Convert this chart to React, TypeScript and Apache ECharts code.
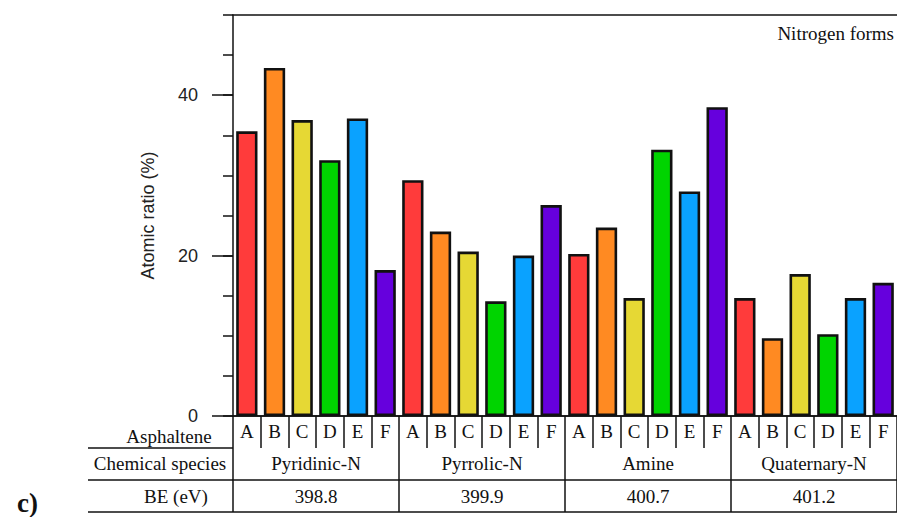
import React, { useEffect, useRef } from 'react';
import * as echarts from 'echarts';

const asphaltenes = ['A', 'B', 'C', 'D', 'E', 'F'];
const species = ['Pyridinic-N', 'Pyrrolic-N', 'Amine', 'Quaternary-N'];
const bindingEnergies = ['398.8', '399.9', '400.7', '401.2'];
const pyridinicN = [35.5, 43.4, 36.9, 31.9, 37.1, 18.2];
const pyrrolicN = [29.4, 23.0, 20.5, 14.3, 20.0, 26.3];
const amine = [20.2, 23.5, 14.7, 33.2, 28.0, 38.5];
const quaternaryN = [14.7, 9.7, 17.7, 10.2, 14.7, 16.6];
const yMajorTicks = [0, 20, 40];
const asphalteneColors = ['#ff3b3b', '#ff8a22', '#e6d834', '#00d400', '#0aa2ff', '#6600dd'];

const groups = [pyridinicN, pyrrolicN, amine, quaternaryN];

const W = 897;
const H = 517;
const GRID_LEFT = 233;
const GRID_TOP = 15;
const GRID_RIGHT_EDGE = 903;
const AXIS_Y = 416;
const ROW_H = 32;
const TABLE_LEFT = 88;
const SERIF = '"Liberation Serif", "Times New Roman", serif';
const SANS = '"Liberation Sans", Arial, sans-serif';
const INK = '#111';

export default function App() {
  const ref = useRef<HTMLDivElement>(null);

  useEffect(() => {
    if (!ref.current) return;
    const chart = echarts.init(ref.current, undefined, { renderer: 'svg' });

    const catKeys: string[] = [];
    const barData: any[] = [];
    groups.forEach((vals, g) => {
      vals.forEach((v, i) => {
        catKeys.push(species[g] + '|' + asphaltenes[i]);
        barData.push({ value: v, itemStyle: { color: asphalteneColors[i] } });
      });
    });

    const line = { show: true, lineStyle: { color: INK, width: 1.5 } };

    const textEl = (text: string, x: number, y: number, extra: any = {}) => ({
      type: 'text',
      x,
      y,
      style: {
        text,
        fill: INK,
        font: `19px ${SERIF}`,
        align: 'center',
        verticalAlign: 'middle',
        ...extra,
      },
    });

    chart.setOption({
      animation: false,
      backgroundColor: '#fff',
      grid: {
        left: GRID_LEFT,
        top: GRID_TOP,
        right: W - GRID_RIGHT_EDGE,
        bottom: H - AXIS_Y,
        containLabel: false,
      },
      xAxis: [
        {
          type: 'category',
          data: catKeys,
          position: 'bottom',
          boundaryGap: true,
          axisLine: line,
          axisTick: { show: true, interval: 0, alignWithLabel: false, length: ROW_H, lineStyle: { color: INK, width: 1.5 } },
          axisLabel: {
            interval: 0,
            margin: 6,
            color: INK,
            fontFamily: SERIF,
            fontSize: 19,
            formatter: (v: string) => v.split('|')[1],
          },
          splitLine: { show: false },
        },
        {
          type: 'category',
          data: species,
          position: 'bottom',
          offset: ROW_H,
          axisLine: line,
          axisTick: { show: false },
          axisLabel: { interval: 0, margin: 6, color: INK, fontFamily: SERIF, fontSize: 19 },
          splitLine: { show: false },
        },
        {
          type: 'category',
          data: bindingEnergies,
          position: 'bottom',
          offset: 2 * ROW_H,
          axisLine: line,
          axisTick: { show: false },
          axisLabel: { interval: 0, margin: 7, color: INK, fontFamily: SERIF, fontSize: 19 },
          splitLine: { show: false },
        },
        {
          type: 'category',
          data: catKeys,
          position: 'top',
          axisLine: line,
          axisTick: { show: false },
          axisLabel: { show: false },
          splitLine: { show: false },
        },
      ],
      yAxis: [
        {
          type: 'value',
          min: 0,
          max: 50,
          interval: 5,
          position: 'left',
          axisLine: line,
          axisTick: { show: true, length: 10, lineStyle: { color: INK, width: 1.5 } },
          axisLabel: { show: false },
          splitLine: { show: false },
          name: 'Atomic ratio (%)',
          nameLocation: 'middle',
          nameGap: 76,
          nameTextStyle: { color: '#222', fontFamily: SANS, fontSize: 18 },
        },
        {
          type: 'value',
          min: 0,
          max: 50,
          interval: 20,
          position: 'left',
          axisLine: { show: false },
          axisTick: { show: true, length: 21, customValues: yMajorTicks, lineStyle: { color: INK, width: 1.5 } },
          axisLabel: { show: true, customValues: yMajorTicks, margin: 35, color: '#222', fontFamily: SANS, fontSize: 18 },
          splitLine: { show: false },
        },
      ],
      series: [
        {
          type: 'bar',
          xAxisIndex: 0,
          yAxisIndex: 0,
          data: barData,
          barWidth: '77%',
          itemStyle: { borderColor: INK, borderWidth: 2.6 },
        },
      ],
    });

    // Table rules: group boundaries come from the species axis scale.
    const c0 = chart.convertToPixel({ xAxisIndex: 1 }, species[0]) as number;
    const c1 = chart.convertToPixel({ xAxisIndex: 1 }, species[1]) as number;
    const band = c1 - c0;
    const rules: any[] = [];
    for (let g = 0; g <= species.length; g++) {
      const cx = (chart.convertToPixel({ xAxisIndex: 1 }, species[Math.min(g, species.length - 1)]) as number);
      const bx = g < species.length ? cx - band / 2 : cx + band / 2;
      rules.push({
        type: 'line',
        shape: { x1: bx, y1: AXIS_Y + ROW_H, x2: bx, y2: AXIS_Y + 3 * ROW_H },
        style: { stroke: INK, lineWidth: 1.5 },
      });
    }
    [AXIS_Y + ROW_H, AXIS_Y + 2 * ROW_H].forEach((y) => {
      rules.push({
        type: 'line',
        shape: { x1: TABLE_LEFT, y1: y, x2: GRID_LEFT, y2: y },
        style: { stroke: INK, lineWidth: 1.5 },
      });
    });
    rules.push({
      type: 'line',
      shape: { x1: TABLE_LEFT, y1: AXIS_Y + 3 * ROW_H, x2: GRID_RIGHT_EDGE, y2: AXIS_Y + 3 * ROW_H },
      style: { stroke: INK, lineWidth: 1.5 },
    });

    chart.setOption({
      graphic: [
        ...rules,
        textEl('Asphaltene', 169, 436),
        textEl('Chemical species', 160, 463),
        textEl('BE (eV)', 176, 496),
        textEl('Nitrogen forms', 894, 33, { align: 'right' }),
        textEl('c)', 17, 503, { align: 'left', font: `bold 27px ${SERIF}` }),
      ],
    });

    return () => chart.dispose();
  }, []);

  return (
    <div
      ref={ref}
      style={{ position: 'fixed', left: 0, top: 0, width: W, height: H, background: '#fff' }}
    />
  );
}
